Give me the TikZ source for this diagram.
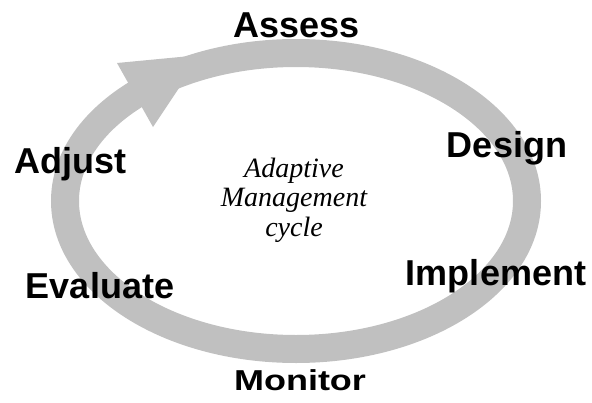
\documentclass[tikz,border=0pt]{standalone}
\usepackage{fontspec}
\setmainfont{Liberation Serif}
\setsansfont{Liberation Sans}
\usetikzlibrary{positioning}
\definecolor{ringgray}{RGB}{192,192,192}
\tikzset{%
	stage/.style={font=\sffamily\bfseries\fontsize{36}{40}\selectfont, anchor=base, inner sep=0pt},
	caption/.style={font=\itshape\fontsize{28}{29.5}\selectfont, align=center, anchor=base, inner sep=0pt},
	ring/.style={draw=ringgray, line width=28pt},
	head/.style={fill=ringgray}
}
\begin{document}
\begin{tikzpicture}[x=1pt, y=-1pt]
	\useasboundingbox (0,0) rectangle (592,402);
	\coordinate (c) at (296,201);
	\coordinate (b1) at (117,63);
	\coordinate (b2) at (153,127);
	\coordinate (tip) at (201,55);

	%cycle
	\draw [ring] (c) ellipse [x radius=231, y radius=148];
	\fill [head] (b1) -- (b2) -- (tip) -- cycle;

	%stages
	\node [stage] (assess) at (296.5,37) {Assess};
	\node [stage] (design) at (507,157) {Design};
	\node [stage] (implement) at (496,285) {Implement};
	\node [stage, yscale=0.8, transform shape] (monitor) at (300,390) {Monitor};
	\node [stage] (evaluate) at (100,298) {Evaluate};
	\node [stage] (adjust) at (70.5,173) {Adjust};

	\node [caption] (title) at (294,236) {Adaptive\\Management\\cycle};
\end{tikzpicture}
\end{document}
